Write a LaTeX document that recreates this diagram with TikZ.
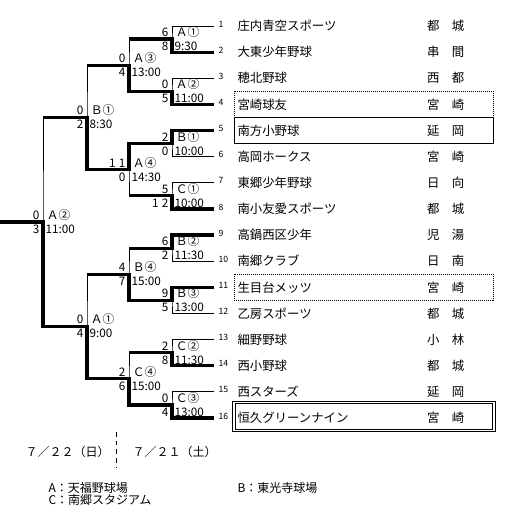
\documentclass[tikz,border=0pt]{standalone}
\usepackage{fontspec}
\setmainfont{Noto Sans CJK JP}
\newcommand{\teamfont}{\fontsize{9.3pt}{11pt}\selectfont}
\newcommand{\numfont}{\fontsize{6.5pt}{7pt}\selectfont}
\newcommand{\gamefont}{\fontsize{8.8pt}{10pt}\selectfont}
\newcommand{\notefont}{\fontsize{9pt}{10pt}\selectfont}

\begin{document}
\begin{tikzpicture}[x=0.75pt, y=-0.75pt, line width=0.75pt, line join=miter,
  win/.style={line width=2.4pt},
  num/.style={font=\numfont, anchor=west, inner sep=0pt},
  team/.style={font=\teamfont, anchor=west, inner sep=0pt},
  lbl/.style={font=\gamefont, anchor=base west, inner sep=0pt},
  score/.style={font=\gamefont, anchor=base east, inner sep=0pt},
  note/.style={font=\notefont, anchor=west, inner sep=0pt},
  rowbox/.style={draw, minimum width=194.25pt, minimum height=19.6pt, inner sep=0pt},
  dotbox/.style={rowbox, dash pattern=on 0.75pt off 0.75pt},
  runbox/.style={rowbox},
  champbox/.style={rowbox, double, double distance=0.9pt,
                   minimum width=195pt, minimum height=21pt},
  daysep/.style={dash pattern=on 3.5pt off 3pt}]
\useasboundingbox (0,0) rectangle (511,521);
% teams
\foreach \i/\name/\town in {1/庄内青空スポーツ/都　城, 2/大東少年野球/串　間,
    3/穂北野球/西　都, 4/宮崎球友/宮　崎, 5/南方小野球/延　岡,
    6/高岡ホークス/宮　崎, 7/東郷少年野球/日　向, 8/南小友愛スポーツ/都　城,
    9/高鍋西区少年/児　湯, 10/南郷クラブ/日　南, 11/生目台メッツ/宮　崎,
    12/乙房スポーツ/都　城, 13/細野野球/小　林, 14/西小野球/都　城,
    15/西スターズ/延　岡, 16/恒久グリーンナイン/宮　崎}{
  \coordinate (t\i) at (214,{26+(\i-1)*26.13});
  \node[num] (n\i) at (218,{24+(\i-1)*26.13}) {\i};
  \node[team] (team\i) at (237,{26+(\i-1)*26.13}) {\name};
  \node[team] (town\i) at (426.5,{26+(\i-1)*26.13}) {\town};
}
% result boxes
\node[dotbox] (box4) at (363.5,104.4) {};
\node[runbox] (box5) at (363.5,130.5) {};
\node[dotbox] (box11) at (363.5,287.3) {};
\node[champbox] (box16) at (364,416.5) {};
% match points
\foreach \m/\x/\y in {r1-1/172/39.07, r1-2/172/91.33, r1-3/172/143.59,
    r1-4/172/195.85, r1-5/172/248.1, r1-6/172/300.37, r1-7/172/352.6,
    r1-8/172/404.9, r2-1/129/65.2, r2-2/129/169.7, r2-3/129/274.2,
    r2-4/129/378.8, r3-1/87/117.5, r3-2/87/326.5, r4/43/222}
  \coordinate (\m) at (\x,\y);
\coordinate (root) at (0,222);
% bracket
\foreach \a/\m/\b in {t1/r1-1/t2, t3/r1-2/t4, t5/r1-3/t6, t7/r1-4/t8,
    t9/r1-5/t10, t11/r1-6/t12, t13/r1-7/t14, t15/r1-8/t16,
    r1-1/r2-1/r1-2, r1-3/r2-2/r1-4, r1-5/r2-3/r1-6, r1-7/r2-4/r1-8,
    r2-1/r3-1/r2-2, r2-3/r3-2/r2-4, r3-1/r4/r3-2}
  \draw (\a) -| (\m) |- (\b);
% winners
\draw[win] (t2) -| (r1-1) -- (r1-1 -| r2-1);
\draw[win] (t4) -| (r1-2) -| (r2-1) -- (r2-1 -| r3-1);
\draw[win] (t5) -| (r1-3) -| (r2-2) -| (r3-1) -- (r3-1 -| r4);
\draw[win] (t8) -| (r1-4) -- (r1-4 -| r2-2);
\draw[win] (t9) -| (r1-5) -- (r1-5 -| r2-3);
\draw[win] (t11) -| (r1-6) -| (r2-3) -- (r2-3 -| r3-2);
\draw[win] (t14) -| (r1-7) -- (r1-7 -| r2-4);
\draw[win] (t16) -| (r1-8) -| (r2-4) -| (r3-2) -| (r4) -- (root);
% games: ground, start, scores
\foreach \m/\lab/\tim/\sa/\sb in {r1-1/Ａ①/9:30/6/8, r1-2/Ａ②/11:00/0/5,
    r1-3/Ｂ①/10:00/2/0, r1-4/Ｃ①/10:00/5/{1\kern2.5pt 2},
    r1-5/Ｂ②/11:30/6/2, r1-6/Ｂ③/13:00/9/5, r1-7/Ｃ②/11:30/2/8,
    r1-8/Ｃ③/13:00/0/4, r2-1/Ａ③/13:00/0/4, r2-2/Ａ④/14:30/{1\kern2.5pt 1}/0,
    r2-3/Ｂ④/15:00/4/7, r2-4/Ｃ④/15:00/2/6, r3-1/Ｂ①/8:30/0/2,
    r3-2/Ａ①/9:00/0/4, r4/Ａ②/11:00/0/3}{
  \node[lbl, xshift=2.5pt, yshift=1.9pt] (lab-\m) at (\m) {\lab};
  \node[lbl, xshift=1.5pt, yshift=-8.6pt] (tim-\m) at (\m) {\tim};
  \node[score, xshift=-2.25pt, yshift=1.9pt] (sa-\m) at (\m) {\sa};
  \node[score, xshift=-2.25pt, yshift=-8.6pt] (sb-\m) at (\m) {\sb};
}
% days
\coordinate (dayTop) at (116,432);
\coordinate (dayBot) at (116,467);
\draw[daysep] (dayTop) -- (dayBot);
\node[note] (day2) at (25,452) {７／２２（日）};
\node[note] (day1) at (132,452) {７／２１（土）};
% grounds
\node[note] (gndA) at (48,488) {A：天福野球場};
\node[note] (gndC) at (48,500) {C：南郷スタジアム};
\node[note] (gndB) at (237,488) {B：東光寺球場};
\end{tikzpicture}
\end{document}
